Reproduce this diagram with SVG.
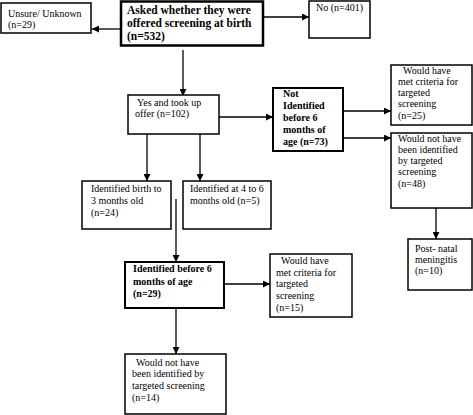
<svg xmlns="http://www.w3.org/2000/svg" width="473" height="415" viewBox="0 0 473 415">
<style>
.box{fill:#fff;stroke:#000;stroke-width:1.5}
.thick{stroke-width:2.5}
.mid{stroke-width:2}
text{font-family:"Liberation Serif","Times New Roman",serif;font-size:10px;fill:#000}
.b{font-weight:bold}
.big{font-size:11.5px}
.c{stroke:#000;stroke-width:1.3;fill:none;marker-end:url(#ah)}
</style>
<defs>
<marker id="ah" viewBox="0 0 10 10" refX="10" refY="5" markerWidth="7" markerHeight="7" markerUnits="userSpaceOnUse" orient="auto">
<path d="M0,0 L10,5 L0,10 z" fill="#000"/>
</marker>
</defs>
<rect width="473" height="415" fill="#fff"/>
<g id="connectors">
<line class="c" x1="120" y1="29" x2="92" y2="29"/>
<line class="c" x1="264" y1="17" x2="309" y2="17"/>
<line class="c" x1="183" y1="50" x2="183" y2="96"/>
<line class="c" x1="218" y1="117" x2="273" y2="117"/>
<line class="c" x1="343" y1="111" x2="391" y2="111"/>
<line class="c" x1="343" y1="138" x2="391" y2="138"/>
<line class="c" x1="436" y1="208" x2="436" y2="239"/>
<line class="c" x1="147" y1="134" x2="147" y2="181"/>
<line class="c" x1="200" y1="134" x2="200" y2="181"/>
<line class="c" x1="176" y1="199" x2="176" y2="262"/>
<line class="c" x1="223" y1="284" x2="270" y2="284"/>
<line class="c" x1="176" y1="308" x2="176" y2="354"/>
</g>
<g id="unsure"><rect class="box" x="1" y="3" width="90" height="30"/><text x="8" y="17">Unsure/ Unknown</text><text x="8" y="28">(n=29)</text></g>
<g id="asked"><rect class="box thick" x="121" y="1.5" width="142" height="44"/><text class="b big" x="127" y="14">Asked whether they were</text><text class="b big" x="127" y="27">offered screening at birth</text><text class="b big" x="127" y="40">(n=532)</text></g>
<g id="no"><rect class="box" x="309" y="1" width="61" height="37"/><text x="316" y="11">No (n=401)</text></g>
<g id="yes"><rect class="box" x="128" y="95" width="91" height="39"/><text x="137" y="106">Yes and took up</text><text x="135" y="117">offer (n=102)</text></g>
<g id="notid"><rect class="box mid" x="273" y="88" width="70" height="63"/><text class="b" x="283" y="97">Not</text><text class="b" x="283" y="109">Identified</text><text class="b" x="283" y="121">before 6</text><text class="b" x="283" y="133">months of</text><text class="b" x="283" y="145">age (n=73)</text></g>
<g id="met25"><rect class="box" x="391" y="65" width="81" height="60"/><text x="403" y="74"> Would have</text><text x="398" y="85">met criteria for</text><text x="398" y="96">targeted</text><text x="398" y="107">screening</text><text x="398" y="119">(n=25)</text></g>
<g id="notmet48"><rect class="box" x="391" y="133" width="81" height="75"/><text x="398" y="142">Would not have</text><text x="398" y="153">been identified</text><text x="398" y="164">by targeted</text><text x="398" y="175">screening</text><text x="398" y="187">(n=48)</text></g>
<g id="post"><rect class="box" x="408" y="239" width="64" height="51"/><text x="415" y="252">Post- natal</text><text x="415" y="263">meningitis</text><text x="415" y="274">(n=10)</text></g>
<g id="birth3"><rect class="box" x="82" y="181" width="89" height="48"/><text x="91" y="192">Identified birth to</text><text x="91" y="204">3 months old</text><text x="91" y="216">(n=24)</text></g>
<g id="at46"><rect class="box" x="183" y="181" width="88" height="48"/><text x="190" y="192">Identified at 4 to 6</text><text x="190" y="204">months old (n=5)</text></g>
<g id="before6"><rect class="box mid" x="125" y="262" width="99" height="46"/><text class="b" x="133" y="272">Identified before 6</text><text class="b" x="133" y="285">months of age</text><text class="b" x="133" y="297">(n=29)</text></g>
<g id="met15"><rect class="box" x="270" y="254" width="82" height="63"/><text x="281" y="264"> Would have</text><text x="276" y="276">met criteria for</text><text x="276" y="287">targeted</text><text x="276" y="299">screening</text><text x="276" y="311">(n=15)</text></g>
<g id="notmet14"><rect class="box" x="125" y="354" width="101" height="60"/><text x="136" y="366"> Would not have</text><text x="132" y="377">been identified by</text><text x="132" y="389">targeted screening</text><text x="132" y="401">(n=14)</text></g>
</svg>
